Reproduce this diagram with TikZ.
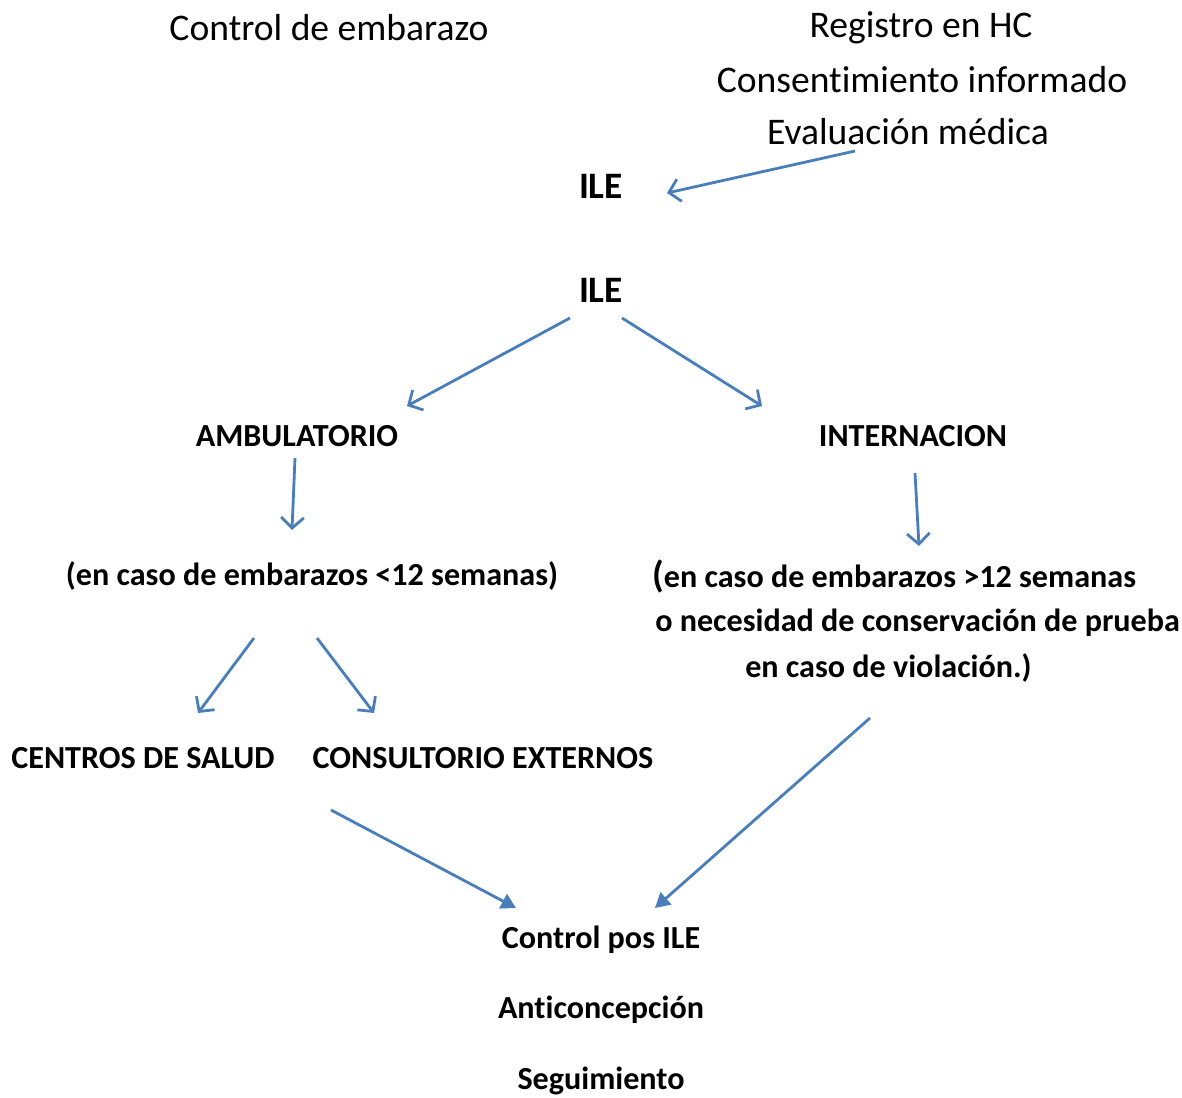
\documentclass[tikz,border=0pt]{standalone}
\usepackage{fontspec}
\setmainfont[Ligatures=NoCommon]{Carlito}
\usetikzlibrary{arrows.meta}
\definecolor{arrowblue}{RGB}{74,126,187}
\begin{document}
\begin{tikzpicture}[x=0.75pt,y=-0.75pt,
  plain/.style={inner sep=0pt,font=\fontsize{28.2}{34}\selectfont},
  bold/.style={inner sep=0pt,font=\fontsize{24.1}{29}\selectfont\bfseries},
  big/.style={inner sep=0pt,font=\fontsize{28}{34}\selectfont\bfseries},
  openarrow/.style={draw=arrowblue,line width=2.1pt,-{Straight Barb[length=8pt,width=17pt]}},
  fillarrow/.style={draw=arrowblue,line width=2.1pt,-{Triangle[length=11pt,width=12pt]}}]
\useasboundingbox (0,0) rectangle (1182,1097);
\node[plain] (ce) at (329,28) {Control de embarazo};
\node[plain] (reg) at (921,28) {Registro en HC};
\node[plain] (cons) at (922,80) {Consentimiento informado};
\node[plain] (eval) at (908,132) {Evaluación médica};
\node[big] (ile1) at (601,186) {ILE};
\node[big] (ile2) at (601,290) {ILE};
\node[bold] (amb) at (297,436) {AMBULATORIO};
\node[bold] (int) at (913,436) {INTERNACION};
\node[bold] (men) at (312,576) {(en caso de embarazos <12 semanas)};
\node[bold,anchor=west] (may1) at (652,576) {{\fontsize{28}{34}\selectfont(}en caso de embarazos >12 semanas};
\node[bold,anchor=west] (may2) at (655,623) {o necesidad de conservación de prueba};
\node[bold,anchor=west] (may3) at (745,668) {en caso de violación.)};
\node[bold] (cs) at (143,758) {CENTROS DE SALUD};
\node[bold] (ext) at (483,758) {CONSULTORIO EXTERNOS};
\node[bold] (pos) at (601,940) {Control pos ILE};
\node[bold] (anti) at (601,1010) {Anticoncepción};
\node[bold] (seg) at (601,1081) {Seguimiento};
\coordinate (a1s) at (855,151); \coordinate (a1e) at (667,193);
\coordinate (a2s) at (570,318); \coordinate (a2e) at (407,406);
\coordinate (a3s) at (622,318); \coordinate (a3e) at (762,406);
\coordinate (a4s) at (295,458); \coordinate (a4e) at (292,530);
\coordinate (a5s) at (915,473); \coordinate (a5e) at (919,546);
\coordinate (a6s) at (254,638); \coordinate (a6e) at (198,713);
\coordinate (a7s) at (317,638); \coordinate (a7e) at (374,713);
\coordinate (a8s) at (331,810); \coordinate (a8e) at (516,908);
\coordinate (a9s) at (870,718); \coordinate (a9e) at (655,908);
\draw[openarrow] (a1s) -- (a1e);
\draw[openarrow] (a2s) -- (a2e);
\draw[openarrow] (a3s) -- (a3e);
\draw[openarrow] (a4s) -- (a4e);
\draw[openarrow] (a5s) -- (a5e);
\draw[openarrow] (a6s) -- (a6e);
\draw[openarrow] (a7s) -- (a7e);
\draw[fillarrow] (a8s) -- (a8e);
\draw[fillarrow] (a9s) -- (a9e);
\end{tikzpicture}
\end{document}
